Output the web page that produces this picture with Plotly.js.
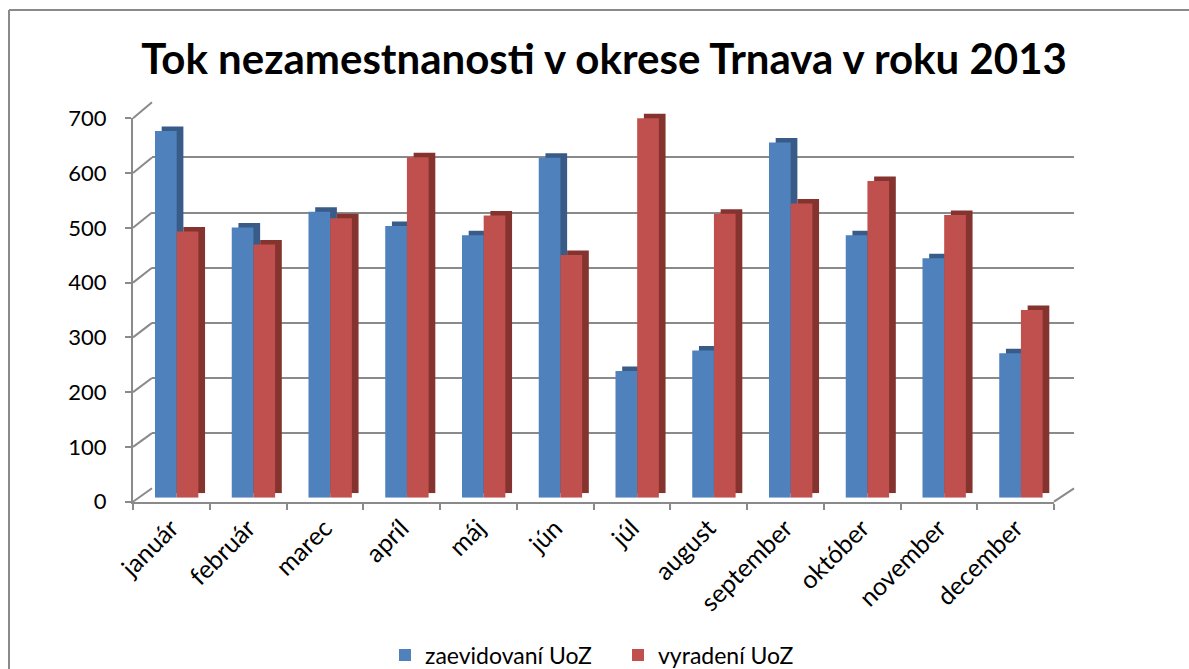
<!DOCTYPE html>
<html>
<head>
<meta charset="utf-8">
<script src="https://cdn.plot.ly/plotly-3.0.1.min.js"></script>
<style>html,body{margin:0;padding:0;background:#fff;}#chart{width:1189px;height:669px;}</style>
</head>
<body>
<div id="chart"></div>
<script>
// ---- data ----
const months = ['január','február','marec','apríl','máj','jún','júl','august','september','október','november','december'];
const zaevidovani = [668, 492, 521, 495, 478, 619, 231, 268, 647, 478, 436, 263];
const vyradeni = [485, 461, 509, 620, 514, 442, 691, 517, 536, 577, 515, 342];
const yTicks = [0, 100, 200, 300, 400, 500, 600, 700];
const seriesNames = ['zaevidovaní UoZ', 'vyradení UoZ'];
const chartTitle = 'Tok nezamestnanosti v okrese Trnava v roku 2013';

// ---- geometry helpers (pixel -> paper) ----
const W = 1189, H = 669;
const M = {l: 133, r: 115, t: 102, b: 167, autoexpand: false};
const PW = W - M.l - M.r, PH = H - M.t - M.b;
const px = p => (p - M.l) / PW;
const py = p => (H - M.b - p) / PH;

const FRONT = {x0: 133, x1: 1054, y0: 501.7, y1: 118.3};   // front axis frame
const BACK  = {x0: 152, x1: 1074, y0: 488.3, y1: 102.3};   // back wall
const BAR   = {x0: 138.3, x1: 1059.3, y0: 497.7, y1: 113.4}; // bar front faces
const DEPTH = {dx: 6.7, dy: -4.5};                           // bar depth offset
const YMAX = 700;

const grey = '#8a8a8a';
const blue = '#4f81bd', red = '#c0504d';
const blueDark = '#385b88', redDark = '#85332f';
const font = 'Lato, "Open Sans", sans-serif';

const yFront = v => FRONT.y0 + (FRONT.y1 - FRONT.y0) * v / YMAX;
const yBack  = v => BACK.y0 + (BACK.y1 - BACK.y0) * v / YMAX;

// side wall and floor lines
const shapes = yTicks.map(v => ({
  type: 'line', xref: 'paper', yref: 'paper',
  x0: px(FRONT.x0), y0: py(yFront(v)), x1: px(BACK.x0), y1: py(yBack(v)),
  line: {color: grey, width: 2}, layer: 'below'
}));
shapes.push({type: 'line', xref: 'paper', yref: 'paper',
  x0: px(FRONT.x1), y0: py(FRONT.y0), x1: px(BACK.x1), y1: py(BACK.y0),
  line: {color: grey, width: 2}, layer: 'below'});
// outer chart border (left and top edges)
shapes.push({type: 'line', xref: 'paper', yref: 'paper',
  x0: px(9), y0: py(10), x1: px(1189), y1: py(10),
  line: {color: grey, width: 2}, layer: 'below'});
shapes.push({type: 'line', xref: 'paper', yref: 'paper',
  x0: px(9), y0: py(10), x1: px(9), y1: py(669),
  line: {color: grey, width: 2}, layer: 'below'});

const traces = [
  // carrier for back wall grid (drawn first)
  {type: 'scatter', mode: 'none', x: months, y: zaevidovani, xaxis: 'x', yaxis: 'y', showlegend: false, hoverinfo: 'skip'},
  // depth (side/top) faces, shifted axes
  {type: 'bar', x: months, y: zaevidovani, xaxis: 'x2', yaxis: 'y2', marker: {color: blueDark}, showlegend: false, hoverinfo: 'skip'},
  {type: 'bar', x: months, y: vyradeni, xaxis: 'x2', yaxis: 'y2', marker: {color: redDark}, showlegend: false, hoverinfo: 'skip'},
  // front faces
  {type: 'bar', name: seriesNames[0], x: months, y: zaevidovani, xaxis: 'x3', yaxis: 'y3', marker: {color: blue}, hoverinfo: 'skip'},
  {type: 'bar', name: seriesNames[1], x: months, y: vyradeni, xaxis: 'x3', yaxis: 'y3', marker: {color: red}, hoverinfo: 'skip'},
  // carrier for front axes
  {type: 'scatter', mode: 'none', x: months, y: zaevidovani, xaxis: 'x4', yaxis: 'y4', showlegend: false, hoverinfo: 'skip'}
];

const hiddenX = (d, anchor) => ({
  type: 'category', categoryorder: 'array', categoryarray: months,
  range: [-0.5, months.length - 0.5], domain: d, anchor: anchor,
  showgrid: false, zeroline: false, showline: false, showticklabels: false, ticks: '', fixedrange: true
});
const hiddenY = (d, anchor) => ({
  range: [0, YMAX], domain: d, anchor: anchor,
  showgrid: false, zeroline: false, showline: false, showticklabels: false, ticks: '', fixedrange: true
});

const layout = {
  width: W, height: H,
  margin: M,
  paper_bgcolor: '#fff', plot_bgcolor: 'rgba(0,0,0,0)',
  font: {family: font, color: '#000'},
  title: {
    text: '<b>' + chartTitle + '</b>',
    font: {family: font, size: 42, color: '#000'},
    xref: 'container', yref: 'container',
    x: 604 / W, xanchor: 'center', y: (H - 59) / H, yanchor: 'middle'
  },
  barmode: 'group', bargap: 0.435, bargroupgap: 0,
  xaxis: hiddenX([px(BACK.x0), px(BACK.x1)], 'y'),
  yaxis: Object.assign(hiddenY([py(BACK.y0), py(BACK.y1)], 'x'),
    {showgrid: true, gridcolor: grey, gridwidth: 2, tickvals: yTicks}),
  xaxis2: hiddenX([px(BAR.x0 + DEPTH.dx), px(BAR.x1 + DEPTH.dx)], 'y2'),
  yaxis2: hiddenY([py(BAR.y0 + DEPTH.dy), py(BAR.y1 + DEPTH.dy)], 'x2'),
  xaxis3: hiddenX([px(BAR.x0), px(BAR.x1)], 'y3'),
  yaxis3: hiddenY([py(BAR.y0), py(BAR.y1)], 'x3'),
  xaxis4: {
    type: 'category', categoryorder: 'array', categoryarray: months,
    range: [-0.5, months.length - 0.5], domain: [px(FRONT.x0), px(FRONT.x1)],
    anchor: 'y4',
    showgrid: false, zeroline: false, showline: true, linecolor: grey, linewidth: 2,
    ticks: 'outside', tickson: 'boundaries', ticklen: 6, tickcolor: grey, tickwidth: 2,
    tickangle: -45, tickfont: {family: font, size: 25, color: '#000'},
    ticklabelstandoff: 0, fixedrange: true
  },
  yaxis4: {
    range: [0, YMAX], domain: [py(FRONT.y0), py(FRONT.y1)],
    anchor: 'x4',
    tickvals: yTicks, ticktext: yTicks.map(String),
    showgrid: false, zeroline: false, showline: true, linecolor: grey, linewidth: 2,
    ticks: 'outside', ticklen: 6, tickcolor: grey, tickwidth: 2,
    tickfont: {family: font, size: 22, color: '#000'},
    ticklabelstandoff: 14, fixedrange: true
  },
  legend: {
    orientation: 'h', x: px(385), xanchor: 'left', y: py(655), yanchor: 'middle',
    entrywidth: 188, entrywidthmode: 'pixels',
    font: {family: font, size: 23, color: '#000'}, itemclick: false, itemdoubleclick: false,
    bgcolor: 'rgba(0,0,0,0)'
  },
  shapes: shapes,
  hovermode: false
};

Plotly.newPlot('chart', traces, layout, {displayModeBar: false, staticPlot: true});
</script>
</body>
</html>
